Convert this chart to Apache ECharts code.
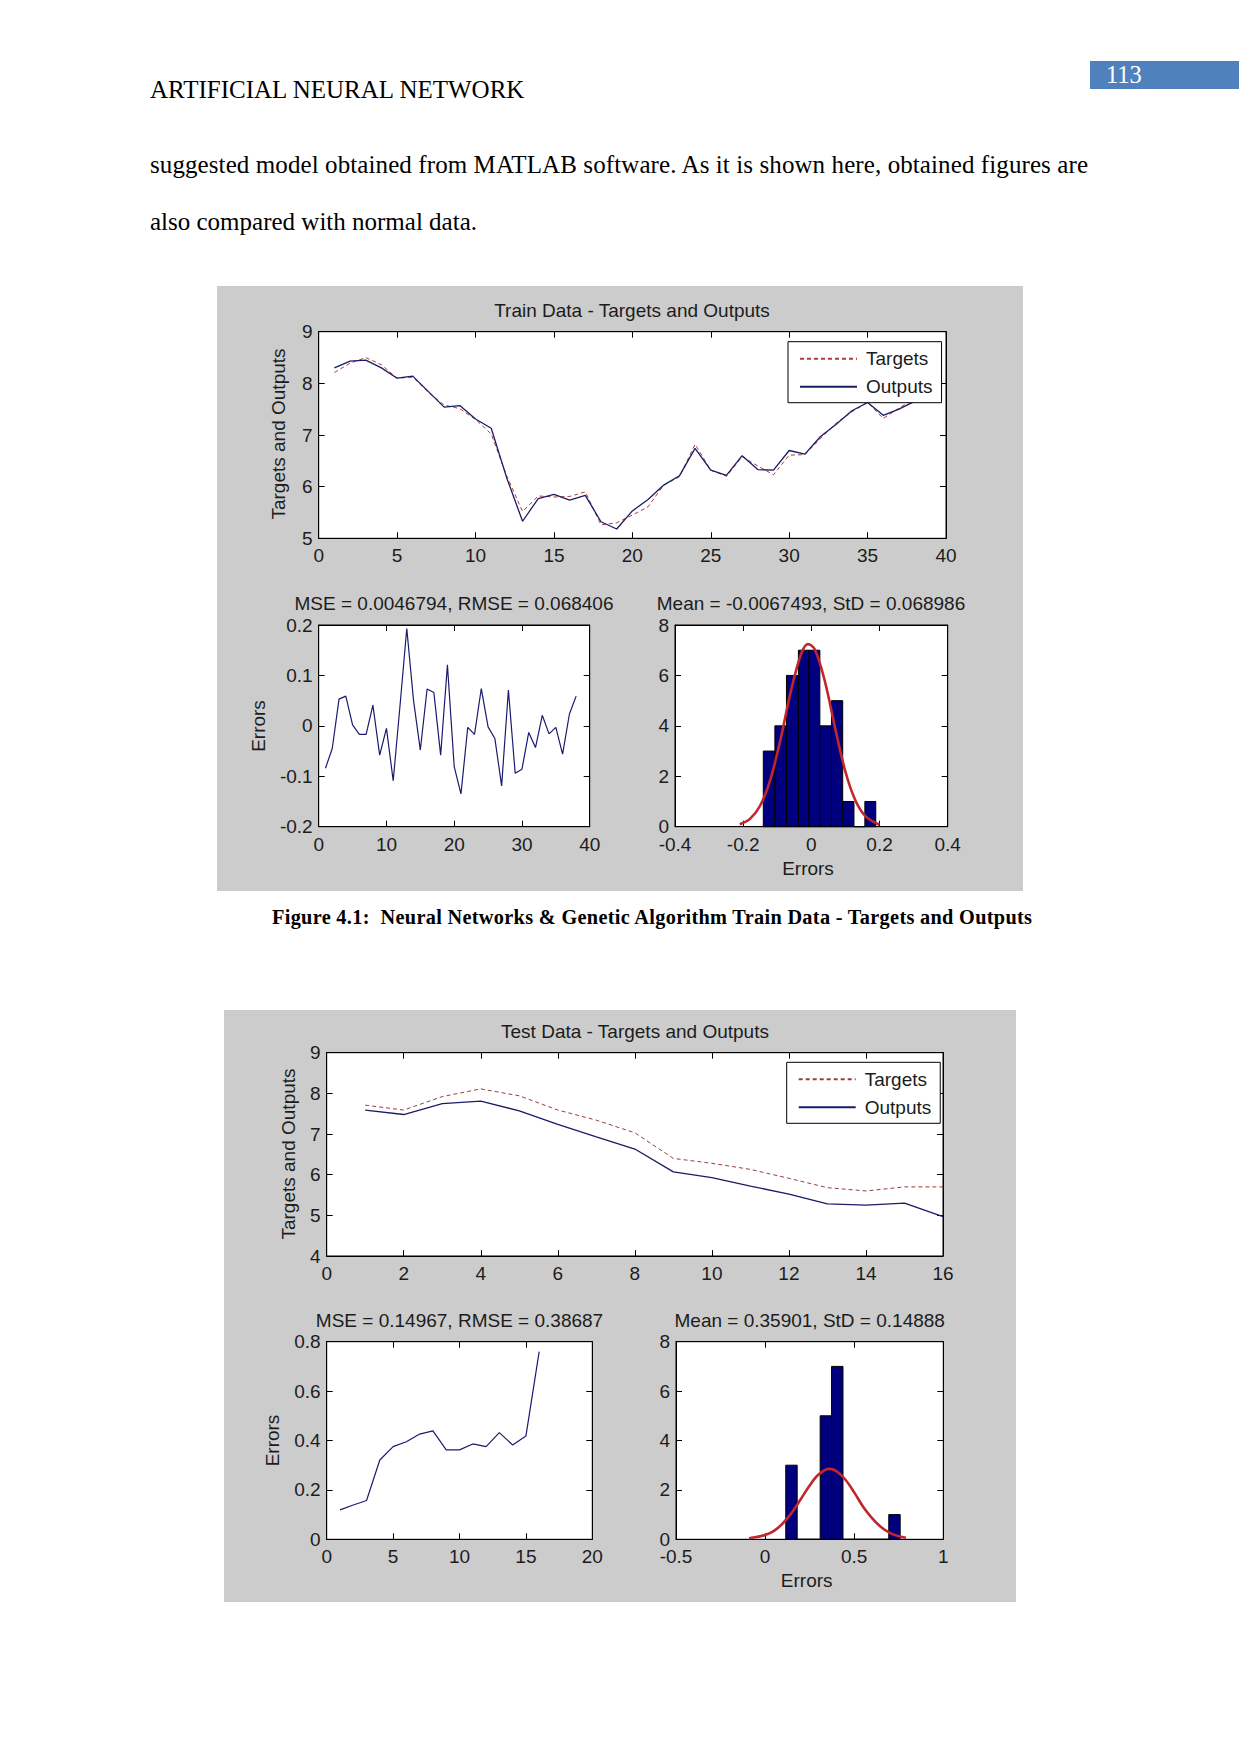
<!DOCTYPE html>
<html><head><meta charset="utf-8">
<script src="https://cdn.jsdelivr.net/npm/echarts@6/dist/echarts.min.js"></script>
<style>
html,body{margin:0;padding:0;background:#fff;}
#page{position:relative;width:1241px;height:1754px;overflow:hidden;background:#fff;}
#fig1{position:absolute;left:217px;top:286px;width:806px;height:605px;}
#fig2{position:absolute;left:224px;top:1010px;width:792px;height:592px;}
#txt{position:absolute;left:0;top:0;}
</style></head>
<body><div id="page">
<svg id="txt" width="1241" height="1754" font-family="'Liberation Serif','Times New Roman',serif">
 <rect x="1090" y="61" width="149" height="28" fill="#4f81bd"/>
 <text x="1106" y="83" font-size="24.5" fill="#ffffff">113</text>
 <text x="150" y="98" font-size="25" fill="#000">ARTIFICIAL NEURAL NETWORK</text>
 <text x="150" y="173" font-size="25" fill="#000" textLength="938" lengthAdjust="spacing">suggested model obtained from MATLAB software. As it is shown here, obtained figures are</text>
 <text x="150" y="230" font-size="25" fill="#000">also compared with normal data.</text>
 <text x="272" y="924" font-size="20.3" font-weight="bold" fill="#000" textLength="760" lengthAdjust="spacing">Figure 4.1:&#160; Neural Networks &amp; Genetic Algorithm Train Data - Targets and Outputs</text>
</svg>
<div id="fig1"></div>
<div id="fig2"></div>
</div>
<script>
// ---------- Train data ----------
const trainTargets = [8.21,8.39,8.50,8.36,8.10,8.12,7.82,7.58,7.51,7.30,7.02,6.20,5.52,5.82,5.80,5.81,5.90,5.26,5.30,5.45,5.61,6.03,6.19,6.82,6.32,6.20,6.58,6.40,6.23,6.61,6.62,6.93,7.23,7.45,7.63,7.32,7.52,7.71];
const trainOutputs = [8.30,8.43,8.45,8.30,8.10,8.14,7.84,7.54,7.57,7.31,7.13,6.16,5.33,5.77,5.85,5.74,5.83,5.32,5.18,5.53,5.75,6.03,6.21,6.74,6.32,6.22,6.60,6.33,6.32,6.70,6.63,6.97,7.21,7.47,7.63,7.38,7.50,7.65];
const trainErrors = [-0.084,-0.045,0.053,0.059,0.002,-0.017,-0.017,0.041,-0.058,-0.005,-0.109,0.040,0.193,0.050,-0.048,0.073,0.066,-0.058,0.121,-0.081,-0.135,-0.003,-0.017,0.074,-0.002,-0.025,-0.119,0.071,-0.094,-0.086,-0.013,-0.043,0.021,-0.016,-0.003,-0.056,0.023,0.059];
const trainHistEdges = [-0.141,-0.107,-0.073,-0.038,-0.007,0.025,0.059,0.092,0.125,0.157,0.189];
const trainHistCounts = [3,4,6,7,7,4,5,1,0,1];
const trainFitX = [-0.21,-0.18,-0.15,-0.12,-0.09,-0.06,-0.03,-0.01,0.01,0.04,0.07,0.10,0.13,0.16,0.20];
const trainFitY = [0.10,0.31,0.84,1.88,3.49,5.38,6.85,7.24,7.04,5.75,3.90,2.18,1.02,0.40,0.08];
const trainTitle = 'Train Data - Targets and Outputs';
const trainErrTitle = 'MSE = 0.0046794, RMSE = 0.068406';
const trainHistTitle = 'Mean = -0.0067493, StD = 0.068986';

// ---------- Test data ----------
const testTargets = [7.71,7.59,7.92,8.11,7.94,7.59,7.34,7.03,6.40,6.28,6.13,5.91,5.68,5.60,5.70,5.70];
const testOutputs = [7.59,7.48,7.75,7.81,7.57,7.24,6.93,6.63,6.07,5.93,5.72,5.52,5.28,5.25,5.30,4.97];
const testErrors = [0.119,0.139,0.157,0.321,0.375,0.395,0.426,0.439,0.362,0.362,0.386,0.375,0.432,0.382,0.418,0.760];
const testHistEdges = [0.116,0.180,0.244,0.309,0.373,0.437,0.501,0.565,0.630,0.694,0.758];
const testHistCounts = [3,0,0,5,7,0,0,0,0,1];
const testFitX = [-0.09,-0.05,0,0.05,0.10,0.15,0.20,0.25,0.30,0.36,0.40,0.45,0.50,0.55,0.60,0.65,0.70,0.75,0.79];
const testFitY = [0.04,0.09,0.17,0.34,0.65,1.08,1.62,2.18,2.62,2.85,2.76,2.42,1.90,1.32,0.86,0.50,0.26,0.12,0.06];
const testTitle = 'Test Data - Targets and Outputs';
const testErrTitle = 'MSE = 0.14967, RMSE = 0.38687';
const testHistTitle = 'Mean = 0.35901, StD = 0.14888';

const FONT = "'Liberation Sans', Arial, sans-serif";
const TXT = '#1c1c1c';
const FS = 19;

function xAx(gi, min, max, interval, mirror) {
  return {type:'value', gridIndex:gi, min:min, max:max, interval:interval, position: mirror?'top':'bottom',
    axisLine:{onZero:false, lineStyle:{color:'#000', width:1}},
    axisTick:{show:true, inside:true, length:6, lineStyle:{color:'#000'}},
    axisLabel:{show:!mirror, color:TXT, fontFamily:FONT, fontSize:FS, margin:8, showMinLabel:true, showMaxLabel:true, hideOverlap:false},
    splitLine:{show:false}};
}
function yAx(gi, min, max, interval, mirror) {
  return {type:'value', gridIndex:gi, min:min, max:max, interval:interval, position: mirror?'right':'left',
    axisLine:{onZero:false, lineStyle:{color:'#000', width:1}},
    axisTick:{show:true, inside:true, length:6, lineStyle:{color:'#000'}},
    axisLabel:{show:!mirror, color:TXT, fontFamily:FONT, fontSize:FS, margin:6, showMinLabel:true, showMaxLabel:true, hideOverlap:false},
    splitLine:{show:false}};
}
function txt(x, y, s, rot) {
  return {type:'text', x:x, y:y, rotation: rot ? Math.PI/2 : 0, silent:true,
    style:{text:s, fill:TXT, font: FS + 'px ' + FONT, align:'center', verticalAlign:'middle'}};
}
function histItem(params, api) {
  const p0 = api.coord([api.value(0), api.value(2)]);
  const p1 = api.coord([api.value(1), 0]);
  return {type:'rect', shape:{x:p0[0], y:p0[1], width:p1[0]-p0[0], height:p1[1]-p0[1]},
    style:{fill:'#00007e', stroke:'#000', lineWidth:1}};
}
function pairs(arr) { return arr.map((v,i)=>[i+1, v]); }
function zip(a, b) { return a.map((v,i)=>[v, b[i]]); }
function hist(edges, counts) { return counts.map((c,i)=>[edges[i], edges[i+1], c]); }

function build(cfg) {
  const g = cfg.grids;
  return {
    animation:false,
    backgroundColor:'#cccccc',
    grid: g.map(r=>({left:r[0], top:r[1], width:r[2], height:r[3], show:true, backgroundColor:'#ffffff', borderColor:'#000', borderWidth:1})),
    legend:{data:['Targets','Outputs'], orient:'vertical', left:cfg.legend[0], top:cfg.legend[1],
      backgroundColor:'#ffffff', borderColor:'#000', borderWidth:1, padding:[6,9,5,11], itemGap:6,
      itemWidth:57, itemHeight:12, itemStyle:{opacity:0, borderWidth:0},
      textStyle:{color:TXT, fontFamily:FONT, fontSize:FS, lineHeight:22, padding:[0,0,0,4]}},
    xAxis:[xAx(0,cfg.ax[0][0],cfg.ax[0][1],cfg.ax[0][2],false), xAx(0,cfg.ax[0][0],cfg.ax[0][1],cfg.ax[0][2],true),
           xAx(1,cfg.ax[2][0],cfg.ax[2][1],cfg.ax[2][2],false), xAx(1,cfg.ax[2][0],cfg.ax[2][1],cfg.ax[2][2],true),
           xAx(2,cfg.ax[4][0],cfg.ax[4][1],cfg.ax[4][2],false), xAx(2,cfg.ax[4][0],cfg.ax[4][1],cfg.ax[4][2],true)],
    yAxis:[yAx(0,cfg.ax[1][0],cfg.ax[1][1],cfg.ax[1][2],false), yAx(0,cfg.ax[1][0],cfg.ax[1][1],cfg.ax[1][2],true),
           yAx(1,cfg.ax[3][0],cfg.ax[3][1],cfg.ax[3][2],false), yAx(1,cfg.ax[3][0],cfg.ax[3][1],cfg.ax[3][2],true),
           yAx(2,cfg.ax[5][0],cfg.ax[5][1],cfg.ax[5][2],false), yAx(2,cfg.ax[5][0],cfg.ax[5][1],cfg.ax[5][2],true)],
    series:[
      {name:'Targets', type:'line', xAxisIndex:0, yAxisIndex:0, data:pairs(cfg.targets), symbol:'none', showSymbol:false,
        lineStyle:{color:cfg.tColor, width:1, type:[4,3]}, itemStyle:{color:cfg.tColor}},
      {name:'Outputs', type:'line', xAxisIndex:0, yAxisIndex:0, data:pairs(cfg.outputs), symbol:'none', showSymbol:false,
        lineStyle:{color:'#1b1b66', width:1.3}, itemStyle:{color:'#1b1b66'}},
      {name:'Errors', type:'line', xAxisIndex:2, yAxisIndex:2, data:pairs(cfg.errors), symbol:'none', showSymbol:false,
        lineStyle:{color:'#1b1b6e', width:1.2}},
      {name:'Histogram', type:'custom', xAxisIndex:4, yAxisIndex:4, data:hist(cfg.edges, cfg.counts),
        encode:{x:[0,1], y:2}, renderItem:histItem},
      {name:'Fit', type:'line', xAxisIndex:4, yAxisIndex:4, data:zip(cfg.fitX, cfg.fitY), symbol:'none', showSymbol:false,
        smooth:0.35, lineStyle:{color:'#c0262c', width:2.6}, z:5}
    ],
    graphic: cfg.texts
  };
}

const c1 = echarts.init(document.getElementById('fig1'), null, {renderer:'svg'});
c1.setOption(build({
  grids:[[101.7,45.7,627.3,206.6],[101.7,339,271,201.7],[458,339,272.7,201.7]],
  ax:[[0,40,5],[5,9,1],[0,40,10],[-0.2,0.2,0.1],[-0.4,0.4,0.2],[0,8,2]],
  legend:[571,55.7],
  targets:trainTargets, outputs:trainOutputs, errors:trainErrors,
  edges:trainHistEdges, counts:trainHistCounts, fitX:trainFitX, fitY:trainFitY,
  tColor:'#b03a3a',
  texts:[txt(415,24,trainTitle), txt(237,317,trainErrTitle), txt(594,317,trainHistTitle),
         txt(591,582,'Errors'), txt(61.7,148,'Targets and Outputs',true), txt(41.7,440,'Errors',true)]
}));

const c2 = echarts.init(document.getElementById('fig2'), null, {renderer:'svg'});
c2.setOption(build({
  grids:[[102.7,42.7,616.3,203.3],[102.7,331.7,265.6,197.6],[452,331.7,267.3,197.6]],
  ax:[[0,16,2],[4,9,1],[0,20,5],[0,0.8,0.2],[-0.5,1,0.5],[0,8,2]],
  legend:[562.7,52.3],
  targets:testTargets, outputs:testOutputs, errors:testErrors,
  edges:testHistEdges, counts:testHistCounts, fitX:testFitX, fitY:testFitY,
  tColor:'#9a3e3e',
  texts:[txt(411,21.7,testTitle), txt(235.5,310,testErrTitle), txt(585.7,310,testHistTitle),
         txt(582.7,570,'Errors'), txt(64,144,'Targets and Outputs',true), txt(48.3,430.5,'Errors',true)]
}));
</script>
</body></html>
